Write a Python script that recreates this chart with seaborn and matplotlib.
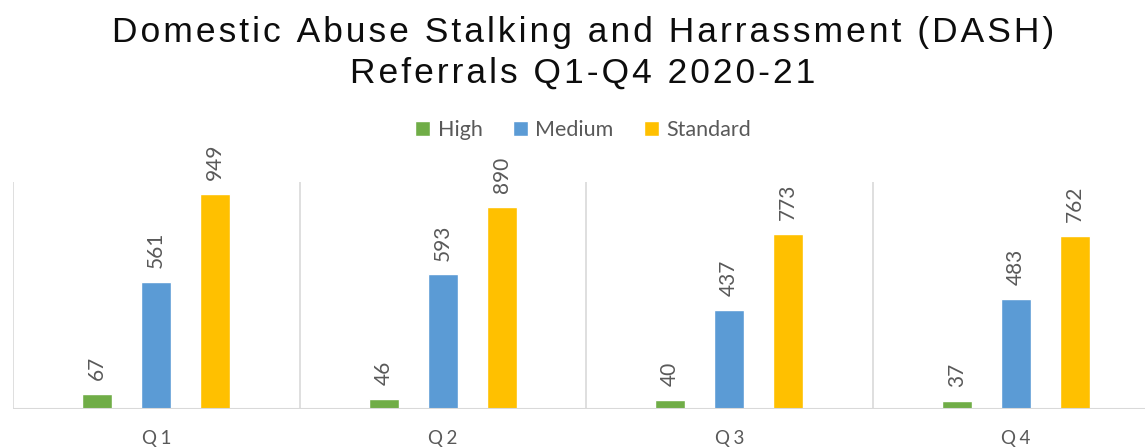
import pandas as pd
import seaborn as sns
import matplotlib.pyplot as plt

quarters = ['Q1', 'Q2', 'Q3', 'Q4']
high = [67, 46, 40, 37]
medium = [561, 593, 437, 483]
standard = [949, 890, 773, 762]
levels = ['High', 'Medium', 'Standard']
colours = ['#70AD47', '#5B9BD5', '#FFC000']
title_lines = ['Domestic Abuse Stalking and Harrassment (DASH)', 'Referrals Q1-Q4 2020-21']

df = pd.DataFrame({
    'quarter': quarters * 3,
    'level': [l for l in levels for _ in quarters],
    'count': high + medium + standard,
})


def spaced(s, sep='\u200a'):
    # imitate the letter spacing of the original title
    return sep.join(s)


sns.set_theme(style='white')
plt.rcParams['font.family'] = ['Lato', 'DejaVu Sans']

fig = plt.figure(figsize=(11.45, 4.48), dpi=100)
ax = fig.add_axes([13 / 1145, 39 / 448, 4 * 286.5 / 1145, 227 / 448])

sns.barplot(data=df, x='quarter', y='count', hue='level', palette=colours,
            saturation=1, width=0.618, gap=0.49, ax=ax, legend=True)

for c in ax.containers:
    ax.bar_label(c, padding=10, rotation=90, fontsize=15, color='#595959')

ax.set_ylim(0, 1000)
ax.set_xlim(-0.5, 3.5)
for x in [-0.5, 0.5, 1.5, 2.5, 3.5]:
    ax.axvline(x, color='#D9D9D9', lw=1.2)
ax.axhline(0, color='#D9D9D9', lw=1.5)
sns.despine(ax=ax, left=True, bottom=True)
ax.set_yticks([])
ax.set_xlabel('')
ax.set_ylabel('')
ax.set_xticks(range(4))
ax.set_xticklabels([spaced(q, '\u2009\u200a') for q in quarters], fontsize=13.5, color='#595959')
ax.tick_params(axis='x', length=0, pad=15)

handles, labels = ax.get_legend_handles_labels()
ax.get_legend().remove()
fig.legend(handles, labels, loc='center', bbox_to_anchor=(583 / 1145, 1 - 130 / 448),
           ncol=3, frameon=False, fontsize=15.5, labelcolor='#595959',
           handlelength=0.7, handleheight=0.7, handletextpad=0.35, columnspacing=1.4)

for line, y in zip(title_lines, [42, 83]):
    fig.text(0.509, 1 - y / 448, spaced(line), ha='center', va='baseline',
             fontsize=25.5, family=['Liberation Sans', 'DejaVu Sans'], color='#0D0D0D')

fig.savefig('out.png', dpi=100)
